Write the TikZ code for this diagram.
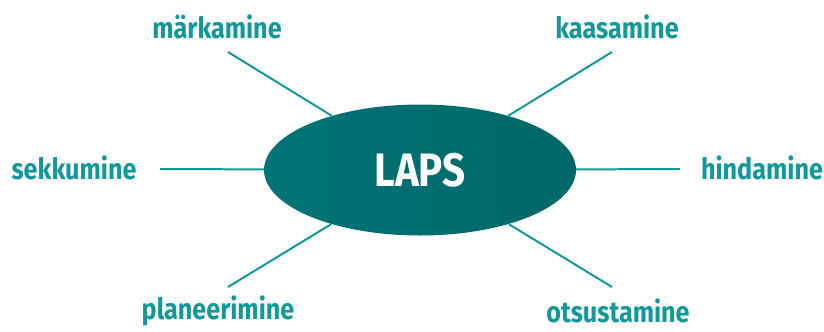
\documentclass[tikz,border=0pt]{standalone}
\usepackage{fontspec}
\setsansfont{Fira Sans}[FakeStretch=0.86]
\usepackage{tikz}
\usetikzlibrary{shapes.geometric}

\definecolor{tealtext}{HTML}{12979A}
\definecolor{tealleft}{HTML}{007378}
\definecolor{tealright}{HTML}{006767}

\begin{document}
\begin{tikzpicture}[x=0.03cm,y=-0.03cm,
  topic/.style={text=tealtext,font=\sffamily\bfseries\fontsize{25}{30}\selectfont,inner sep=0pt},
  spoke/.style={draw=tealtext,line width=1.7pt}]
  \useasboundingbox (0,0) rectangle (824,331);

  %centre
  \node[ellipse,minimum width=312*0.03cm,minimum height=131*0.03cm,inner sep=0pt,
    left color=tealleft,right color=tealright,text=white,
    font=\sffamily\bfseries\fontsize{40}{46}\selectfont] (laps) at (420,170) {LAPS};

  %topics
  \node[topic] (mark) at (217,27) {märkamine};
  \node[topic] (kaas) at (617,27) {kaasamine};
  \node[topic] (sekk) at (74,168) {sekkumine};
  \node[topic] (hind) at (762,168) {hindamine};
  \node[topic] (plan) at (218,311) {planeerimine};
  \node[topic] (otsu) at (618,311) {otsustamine};

  %spoke ends
  \coordinate (mark-end) at (228,52);
  \coordinate (kaas-end) at (612,52);
  \coordinate (sekk-end) at (160,169);
  \coordinate (hind-end) at (680,169);
  \coordinate (plan-end) at (228,287);
  \coordinate (otsu-end) at (612,287);

  %spokes
  \foreach \s in {mark,kaas,sekk,hind,plan,otsu}
    \draw[spoke] (\s-end) -- (laps);
\end{tikzpicture}
\end{document}
